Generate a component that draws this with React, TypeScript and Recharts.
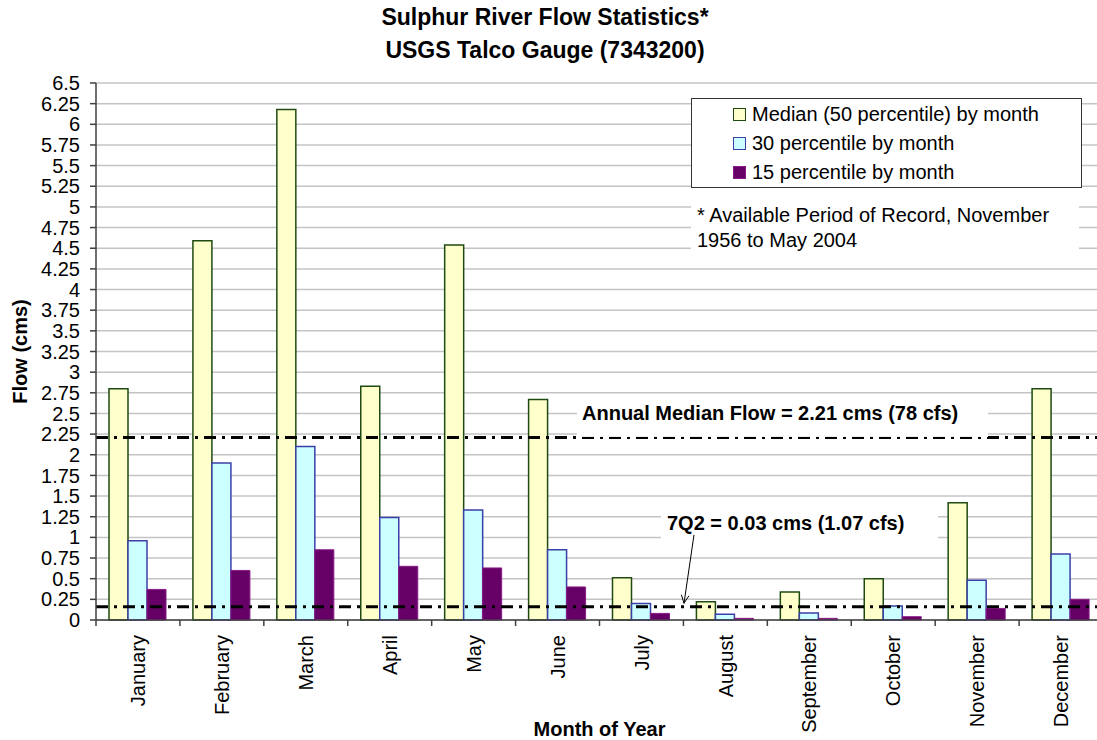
import React from 'react';
import {
  BarChart,
  Bar,
  XAxis,
  YAxis,
  CartesianGrid,
  ReferenceLine,
  Legend,
} from 'recharts';

// Monthly flow statistics, Sulphur River at Talco (cms)
const months = [
  'January', 'February', 'March', 'April', 'May', 'June',
  'July', 'August', 'September', 'October', 'November', 'December',
];
const medianFlow = [2.8, 4.59, 6.18, 2.83, 4.54, 2.67, 0.51, 0.22, 0.34, 0.5, 1.42, 2.8];
const pct30Flow = [0.96, 1.9, 2.1, 1.24, 1.33, 0.85, 0.2, 0.07, 0.085, 0.17, 0.48, 0.8];
const pct15Flow = [0.37, 0.6, 0.85, 0.65, 0.63, 0.4, 0.08, 0.02, 0.02, 0.04, 0.14, 0.25];

const flowTicks = [
  0, 0.25, 0.5, 0.75, 1, 1.25, 1.5, 1.75, 2, 2.25, 2.5, 2.75, 3, 3.25,
  3.5, 3.75, 4, 4.25, 4.5, 4.75, 5, 5.25, 5.5, 5.75, 6, 6.25, 6.5,
];

const annualMedianFlow = 2.21;
const lowFlowLine = 0.16;

const seriesNames = {
  median: 'Median (50 percentile) by month',
  p30: '30 percentile by month',
  p15: '15 percentile by month',
};

const seriesStyle: Record<string, { fill: string; stroke: string }> = {
  median: { fill: '#FFFFCC', stroke: '#1F4A12' },
  p30: { fill: '#CCFFFF', stroke: '#3B3FA8' },
  p15: { fill: '#660066', stroke: '#8A1A8A' },
};

const data = months.map((month, i) => ({
  month,
  median: medianFlow[i],
  p30: pct30Flow[i],
  p15: pct15Flow[i],
}));

const FONT = '"Liberation Sans", Arial, sans-serif';

// month labels read bottom-to-top, with tick marks on the category boundaries
const MonthTick = (props: any) => {
  const { x, y, payload, index } = props;
  const half = payload && payload.offset ? payload.offset : 41.9;
  return (
    <g>
      <line x1={x - half} y1={y} x2={x - half} y2={y + 6} stroke="#404040" strokeWidth={1.5} />
      {index === months.length - 1 && (
        <line x1={x + half} y1={y} x2={x + half} y2={y + 6} stroke="#404040" strokeWidth={1.5} />
      )}
      <text
        x={x}
        y={y + 15}
        dy="0.36em"
        textAnchor="end"
        fontSize={20}
        fill="#000"
        transform={`rotate(-90, ${x}, ${y + 15})`}
      >
        {payload.value}
      </text>
    </g>
  );
};

const AnnualLabel = (props: any) => {
  const y = props.viewBox.y;
  return (
    <g>
      <rect x={577} y={y - 41} width={411} height={40.5} fill="#fff" />
      <text x={582} y={y - 17} fontSize={20} fontWeight="bold" fill="#000">
        Annual Median Flow = 2.21 cms (78 cfs)
      </text>
    </g>
  );
};

const LowFlowLabel = (props: any) => {
  const y = props.viewBox.y;
  return (
    <g>
      <rect x={661} y={y - 107} width={277} height={48} fill="#fff" />
      <text x={667} y={y - 77} fontSize={20} fontWeight="bold" fill="#000">
        7Q2 = 0.03 cms (1.07 cfs)
      </text>
      <line x1={694} y1={y - 72} x2={684} y2={y - 3.5} stroke="#000" strokeWidth={1} />
      <polyline
        points={`${681.4},${y - 12} ${684},${y - 3.5} ${688.9},${y - 11}`}
        fill="none"
        stroke="#000"
        strokeWidth={1}
      />
    </g>
  );
};

const LegendBox = () => (
  <div style={{ fontFamily: FONT, color: '#000' }}>
    <div
      style={{
        width: 391,
        height: 90,
        boxSizing: 'border-box',
        border: '1px solid #333',
        background: '#fff',
        paddingTop: 1,
      }}
    >
      {(['median', 'p30', 'p15'] as const).map((key) => (
        <div key={key} style={{ display: 'flex', alignItems: 'center', height: 29 }}>
          <span
            style={{
              display: 'inline-block',
              marginLeft: 41,
              width: 13,
              height: 13,
              boxSizing: 'border-box',
              background: seriesStyle[key].fill,
              border: `1.5px solid ${seriesStyle[key].stroke}`,
            }}
          />
          <span style={{ marginLeft: 6, fontSize: 20, whiteSpace: 'nowrap' }}>{seriesNames[key]}</span>
        </div>
      ))}
    </div>
    <div
      style={{
        marginTop: 7,
        width: 388,
        height: 65,
        boxSizing: 'border-box',
        background: '#fff',
        paddingLeft: 6,
        paddingTop: 7.5,
        fontSize: 20,
        lineHeight: '25px',
        whiteSpace: 'nowrap',
      }}
    >
      * Available Period of Record, November
      <br />
      1956 to May 2004
    </div>
  </div>
);

export default function App() {
  return (
    <div
      style={{
        position: 'absolute',
        left: 0,
        top: 0,
        width: 1097,
        height: 740,
        overflow: 'hidden',
        background: '#fff',
        fontFamily: FONT,
      }}
    >
      <div
        style={{
          position: 'absolute',
          left: 0,
          top: 1,
          width: 1090,
          textAlign: 'center',
          fontSize: 23,
          fontWeight: 'bold',
          lineHeight: '33px',
          color: '#000',
        }}
      >
        Sulphur River Flow Statistics*
        <br />
        USGS Talco Gauge (7343200)
      </div>
      <BarChart
        width={1110}
        height={740}
        data={data}
        margin={{ top: 83, right: 7, bottom: 0, left: 0 }}
        barGap={0}
        style={{ position: 'absolute', left: 0, top: 0 }}
      >
        <CartesianGrid vertical={false} stroke="#c4c4c4" strokeWidth={1.5} />
        <XAxis
          dataKey="month"
          height={120}
          tickLine={false}
          tickSize={0}
          tickMargin={0}
          interval={0}
          axisLine={{ stroke: '#404040', strokeWidth: 1.5 }}
          tick={<MonthTick />}
          label={(p: any) => (
            <text
              x={p.viewBox.x + p.viewBox.width / 2}
              y={p.viewBox.y + 116}
              textAnchor="middle"
              fontSize={20}
              fontWeight="bold"
              fill="#000"
            >
              Month of Year
            </text>
          )}
        />
        <YAxis
          width={96}
          domain={[0, 6.5]}
          ticks={flowTicks}
          interval={0}
          tickSize={6}
          tickMargin={10}
          tick={{ fontSize: 20, fill: '#000' }}
          tickLine={{ stroke: '#404040', strokeWidth: 1.5 }}
          axisLine={{ stroke: '#404040', strokeWidth: 1.5 }}
          label={(p: any) => (
            <text
              x={27}
              y={p.viewBox.y + p.viewBox.height / 2}
              textAnchor="middle"
              fontSize={20}
              fontWeight="bold"
              fill="#000"
              transform={`rotate(-90, 27, ${p.viewBox.y + p.viewBox.height / 2})`}
            >
              Flow (cms)
            </text>
          )}
        />
        <Legend
          layout="vertical"
          align="center"
          verticalAlign="middle"
          wrapperStyle={{ left: 691, top: 98, width: 400, height: 165 }}
          content={<LegendBox />}
        />
        <Bar
          dataKey="median"
          name={seriesNames.median}
          barSize={19}
          fill={seriesStyle.median.fill}
          stroke={seriesStyle.median.stroke}
          strokeWidth={1.5}
          isAnimationActive={false}
        />
        <Bar
          dataKey="p30"
          name={seriesNames.p30}
          barSize={19}
          fill={seriesStyle.p30.fill}
          stroke={seriesStyle.p30.stroke}
          strokeWidth={1.5}
          isAnimationActive={false}
        />
        <Bar
          dataKey="p15"
          name={seriesNames.p15}
          barSize={19}
          fill={seriesStyle.p15.fill}
          stroke={seriesStyle.p15.stroke}
          strokeWidth={1}
          isAnimationActive={false}
        />
        <ReferenceLine
          y={annualMedianFlow}
          stroke="#000"
          strokeWidth={3}
          strokeDasharray="12 6 3 6"
          label={AnnualLabel}
        />
        <ReferenceLine
          y={lowFlowLine}
          stroke="#000"
          strokeWidth={3}
          strokeDasharray="12 6 3 6"
          label={LowFlowLabel}
        />
      </BarChart>
    </div>
  );
}
